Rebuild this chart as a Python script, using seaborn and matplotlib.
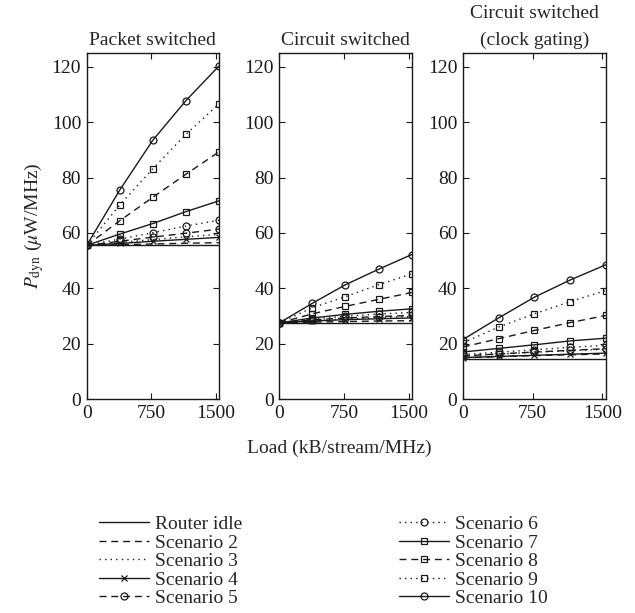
import matplotlib
matplotlib.use("Agg")
import matplotlib.pyplot as plt
import seaborn as sns
import pandas as pd

# load points (kB/stream/MHz)
load = [0, 384, 768, 1152, 1536]

panel_titles = ["Packet switched", "Circuit switched", "Circuit switched\n(clock gating)"]
series_names = ["Router idle", "Scenario 2", "Scenario 3", "Scenario 4", "Scenario 5",
                "Scenario 6", "Scenario 7", "Scenario 8", "Scenario 9", "Scenario 10"]

# packet switched
packet = {
    "Router idle": [55.5, 55.5, 55.5, 55.5, 55.5],
    "Scenario 2": [55.5, 55.8, 56.0, 56.3, 56.5],
    "Scenario 3": [55.5, 56.6, 57.6, 58.6, 59.5],
    "Scenario 4": [55.5, 56.2, 57.0, 57.7, 58.4],
    "Scenario 5": [55.5, 57.0, 58.5, 59.9, 61.4],
    "Scenario 6": [55.5, 57.8, 60.1, 62.5, 64.6],
    "Scenario 7": [55.5, 59.6, 63.4, 67.7, 71.6],
    "Scenario 8": [55.5, 64.4, 72.9, 81.2, 89.3],
    "Scenario 9": [55.5, 70.1, 83.2, 95.6, 106.6],
    "Scenario 10": [55.5, 75.5, 93.5, 107.8, 120.3],
}

# circuit switched
circuit = {
    "Router idle": [27.5, 27.5, 27.5, 27.5, 27.5],
    "Scenario 2": [27.5, 27.8, 28.0, 28.2, 28.3],
    "Scenario 3": [27.5, 28.3, 28.9, 29.4, 29.8],
    "Scenario 4": [27.5, 28.2, 28.7, 29.0, 29.3],
    "Scenario 5": [27.5, 28.6, 29.3, 29.8, 30.2],
    "Scenario 6": [27.5, 28.9, 29.9, 30.7, 31.3],
    "Scenario 7": [27.5, 29.3, 30.6, 31.7, 32.6],
    "Scenario 8": [27.5, 30.8, 33.5, 36.0, 38.5],
    "Scenario 9": [27.5, 33.0, 37.0, 41.3, 45.2],
    "Scenario 10": [27.5, 34.6, 41.3, 46.9, 52.2],
}

# circuit switched with clock gating
gating = {
    "Router idle": [14.4, 14.4, 14.4, 14.4, 14.4],
    "Scenario 2": [14.9, 15.3, 15.7, 16.0, 16.3],
    "Scenario 3": [15.5, 16.2, 16.9, 17.5, 18.0],
    "Scenario 4": [15.0, 15.4, 15.8, 16.2, 16.6],
    "Scenario 5": [15.6, 16.3, 17.0, 17.6, 18.2],
    "Scenario 6": [16.1, 16.9, 17.8, 18.7, 19.4],
    "Scenario 7": [17.0, 18.3, 19.6, 21.0, 22.0],
    "Scenario 8": [18.8, 21.8, 24.8, 27.6, 30.2],
    "Scenario 9": [20.3, 26.0, 30.8, 35.2, 39.2],
    "Scenario 10": [21.5, 29.3, 36.8, 43.0, 48.5],
}

# line style and marker per series
dash = (0, (5, 3.5))
dot = (0, (1, 3))
styles = {
    "Router idle": ("-", None),
    "Scenario 2": (dash, None),
    "Scenario 3": (dot, None),
    "Scenario 4": ("-", "x"),
    "Scenario 5": (dash, "o"),
    "Scenario 6": (dot, "o"),
    "Scenario 7": ("-", "s"),
    "Scenario 8": (dash, "s"),
    "Scenario 9": (dot, "s"),
    "Scenario 10": ("-", "o"),
}

sns.set_style("ticks")
plt.rcParams["font.family"] = ["Liberation Serif", "DejaVu Serif"]
plt.rcParams["mathtext.fontset"] = "stix"

fig = plt.figure(figsize=(6.35, 6.13), dpi=100)
positions = [[0.1365, 0.349, 0.2083, 0.5645],
             [0.4397, 0.349, 0.2087, 0.5645],
             [0.7290, 0.349, 0.2250, 0.5645]]

ink = "#1a1a1a"
for pos, title, data in zip(positions, panel_titles, [packet, circuit, gating]):
    ax = fig.add_axes(pos)
    for name in series_names:
        ls, mk = styles[name]
        df = pd.DataFrame({"load": load, "p": data[name]})
        sns.lineplot(data=df, x="load", y="p", ax=ax, color=ink, linestyle=ls,
                     marker=mk, markersize=5 if mk != "x" else 4,
                     markerfacecolor="none", markeredgecolor=ink, markeredgewidth=0.9,
                     linewidth=1.0, label=name)
    ax.get_legend().remove()
    ax.set_xlim(0, 1536)
    ax.set_ylim(0, 125)
    ax.set_xticks([0, 750, 1500])
    ax.set_yticks(range(0, 121, 20))
    t = ax.set_title(title, fontsize=14, pad=6)
    t.set_linespacing(1.7)
    ax.set_xlabel("")
    ax.set_ylabel("")
    ax.tick_params(direction="in", top=True, right=True, length=4, width=0.8,
                   labelsize=14, colors=ink, pad=4)
    for sp in ax.spines.values():
        sp.set_linewidth(1.0)
        sp.set_color(ink)
    if title == "Packet switched":
        ax.set_ylabel(r"$P_{\rm dyn}$ ($\mu$W/MHz)", fontsize=14, labelpad=4)
        handles, labels = ax.get_legend_handles_labels()

fig.text(0.535, 0.268, "Load (kB/stream/MHz)", ha="center", va="center", fontsize=14)

leg_kw = dict(frameon=False, fontsize=14, handlelength=2.6, handletextpad=0.3,
              labelspacing=0.05, borderaxespad=0, numpoints=1)
leg1 = fig.legend(handles[:5], labels[:5], loc="upper left",
                  bbox_to_anchor=(0.143, 0.172), **leg_kw)
leg2 = fig.legend(handles[5:], labels[5:], loc="upper left",
                  bbox_to_anchor=(0.616, 0.172), **leg_kw)

fig.savefig("out.png", dpi=100)
